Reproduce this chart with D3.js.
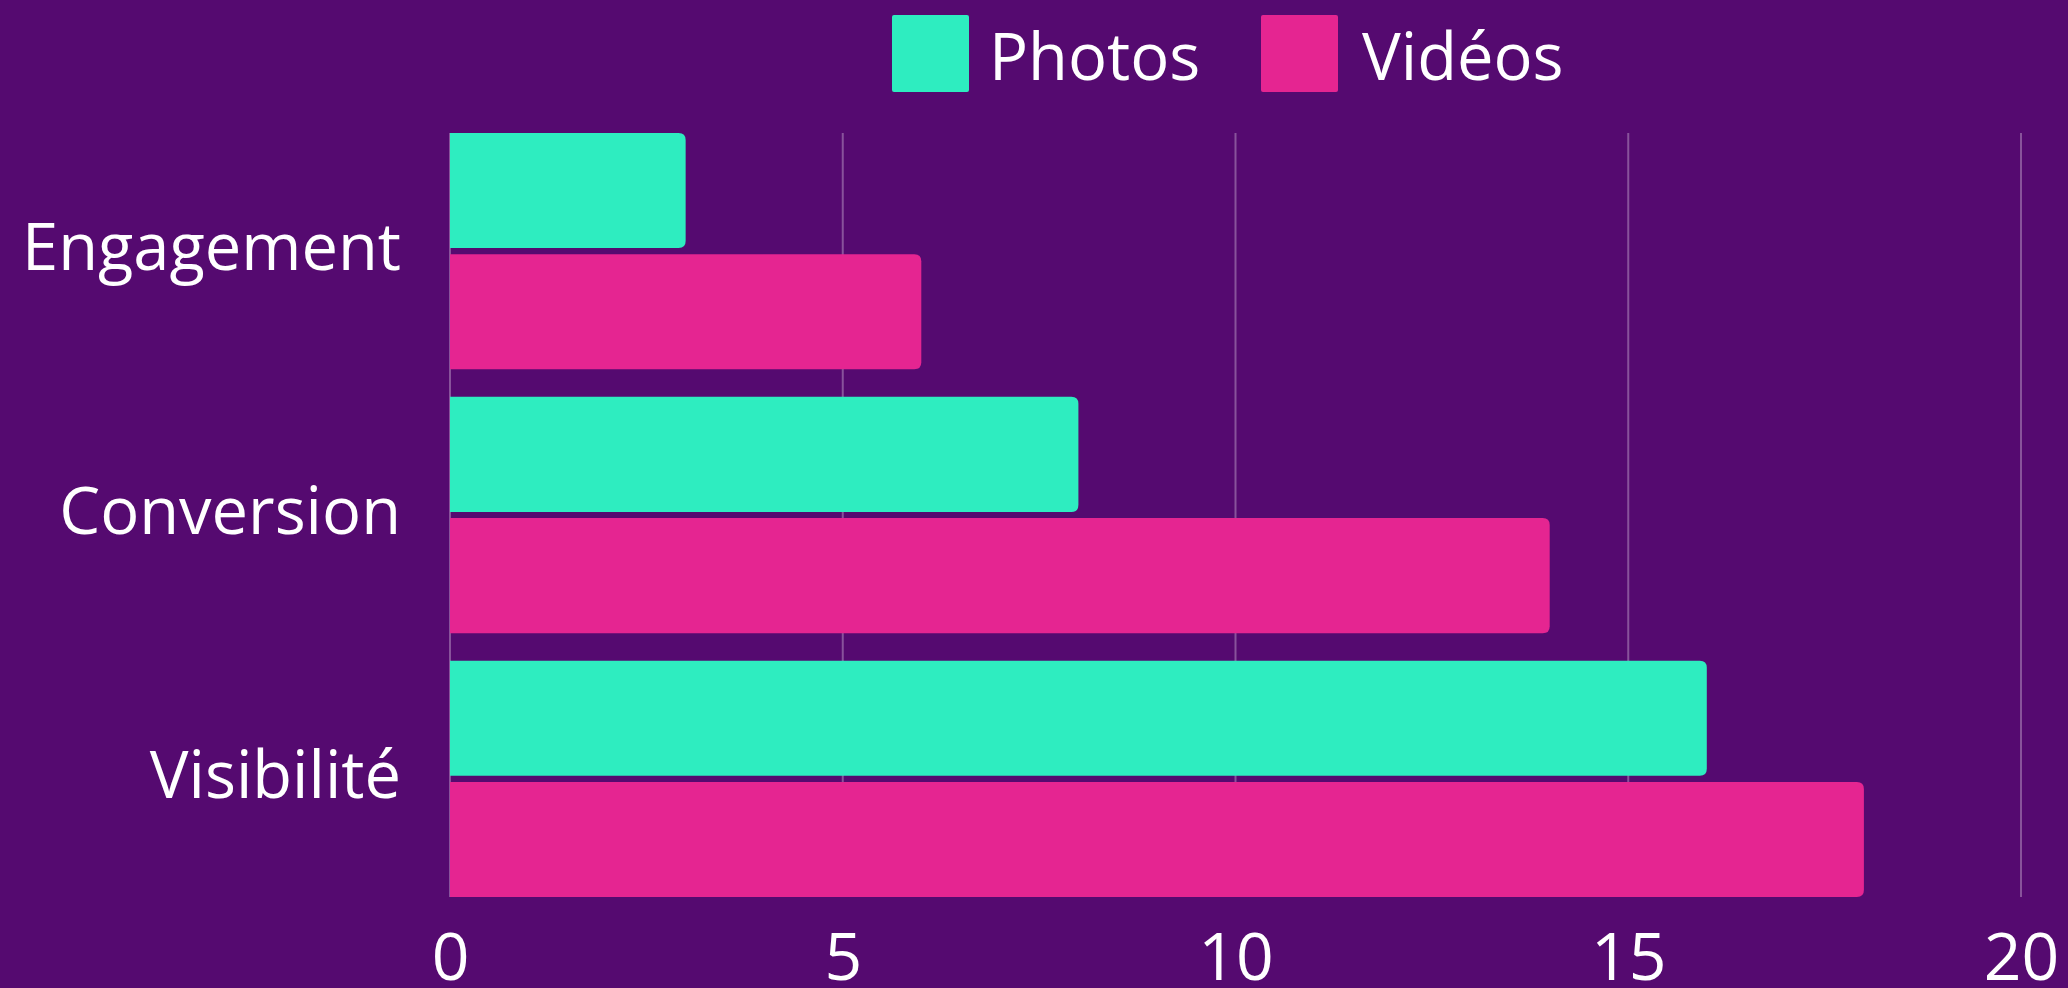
<!DOCTYPE html>
<html>
<head>
<meta charset="utf-8">
<script src="https://cdn.jsdelivr.net/npm/d3@7"></script>
<style>
  html, body { margin: 0; padding: 0; background: #550a70; }
  svg { display: block; }
  text { font-family: "Open Sans", sans-serif; fill: #ffffff; }
</style>
</head>
<body>
<svg id="chart" width="2068" height="988"></svg>
<script>
const categories = ["Engagement", "Conversion", "Visibilité"];
const seriesNames = ["Photos", "Vidéos"];
const seriesColors = ["#2eedc0", "#e52591"];
const photosValues = [3, 8, 16];
const videosValues = [6, 14, 18];
const xTicks = [0, 5, 10, 15, 20];

const W = 2068, H = 988;
const margin = { left: 450, right: 47, top: 133, bottom: 91 };
const svg = d3.select("#chart");
svg.append("rect").attr("width", W).attr("height", H).attr("fill", "#550a70");

const x = d3.scaleLinear().domain([0, 20]).range([margin.left, W - margin.right]);
const y = d3.scaleBand().domain(categories).range([margin.top, H - margin.bottom])
  .paddingInner(0.1045).paddingOuter(0);
const ySub = d3.scaleBand().domain(seriesNames).range([0, y.bandwidth()]).paddingInner(0.05);

// gridlines
svg.append("g").selectAll("line").data(xTicks).join("line")
  .attr("x1", d => x(d)).attr("x2", d => x(d))
  .attr("y1", margin.top).attr("y2", H - margin.bottom)
  .attr("stroke", "rgba(255,255,255,0.3)").attr("stroke-width", 2);

const data = [];
categories.forEach((c, i) => {
  data.push({ cat: c, s: "Photos", v: photosValues[i], color: seriesColors[0] });
  data.push({ cat: c, s: "Vidéos", v: videosValues[i], color: seriesColors[1] });
});

function barPath(x0, y0, w, h, r) {
  r = Math.min(r, w, h / 2);
  return `M${x0},${y0} H${x0 + w - r} Q${x0 + w},${y0} ${x0 + w},${y0 + r} V${y0 + h - r} Q${x0 + w},${y0 + h} ${x0 + w - r},${y0 + h} H${x0} Z`;
}

svg.append("g").selectAll("path").data(data).join("path")
  .attr("d", d => barPath(x(0), y(d.cat) + ySub(d.s), x(d.v) - x(0), ySub.bandwidth(), 7))
  .attr("fill", d => d.color);

// x axis tick labels
const xAxis = d3.axisBottom(x).tickValues(xTicks).tickSize(0).tickPadding(0);
const gx = svg.append("g").attr("transform", `translate(0,${H - margin.bottom})`).call(xAxis);
gx.select(".domain").remove();
gx.selectAll("text").attr("fill", "#fff").style("font-family", "'Open Sans', sans-serif")
  .attr("font-size", 66).attr("y", 83).attr("dy", 0);

// y axis labels
const yAxis = d3.axisLeft(y).tickSize(0).tickPadding(0);
const gy = svg.append("g").attr("transform", `translate(${margin.left - 49},0)`).call(yAxis);
gy.select(".domain").remove();
gy.selectAll("text").attr("fill", "#fff").style("font-family", "'Open Sans', sans-serif")
  .attr("font-size", 65).attr("dy", 0).attr("y", 19);

// legend
const legendX = [892, 1261];
const lg = svg.append("g").selectAll("g").data(seriesNames).join("g")
  .attr("transform", (d, i) => `translate(${legendX[i]},15)`);
lg.append("rect").attr("width", 77).attr("height", 77).attr("rx", 2)
  .attr("fill", (d, i) => seriesColors[i]);
lg.append("text").attr("x", (d, i) => i === 0 ? 97 : 101).attr("y", 65).attr("font-size", 65).text(d => d);
</script>
</body>
</html>
